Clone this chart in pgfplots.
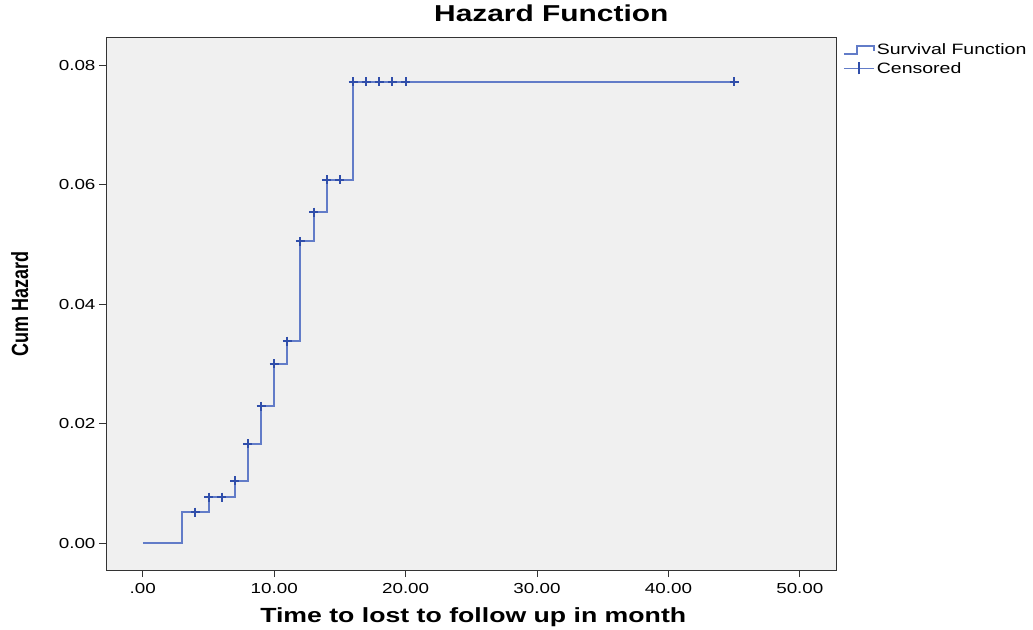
\documentclass[border=0pt]{standalone}
\usepackage{fontspec}
\setmainfont[FakeStretch=1.3]{Liberation Sans}
\newfontfamily\plainsans{Liberation Sans}
\usepackage{graphicx}
\usepackage{pgfplots}
\pgfplotsset{compat=1.18}

\definecolor{stepblue}{RGB}{98,124,200}
\definecolor{censblue}{RGB}{48,78,170}
\definecolor{panel}{RGB}{240,240,240}

\begin{document}
\begin{tikzpicture}
\begin{axis}[
    scale only axis,
    width=730bp, height=533bp,
    xmin=-2.8, xmax=52.75,
    ymin=-0.0045, ymax=0.0847,
    scaled y ticks=false,
    axis background/.style={fill=panel},
    axis line style={black!80, line width=0.8bp},
    xtick={0,10,20,30,40,50},
    xticklabels={.00,10.00,20.00,30.00,40.00,50.00},
    ytick={0,0.02,0.04,0.06,0.08},
    yticklabels={0.00,0.02,0.04,0.06,0.08},
    xtick pos=lower, ytick pos=left,
    tick align=outside,
    major tick length=7bp,
    tick style={black!80, line width=1bp},
    ticklabel style={font=\fontsize{14.5bp}{16bp}\selectfont},
    xticklabel style={yshift=-3bp},
    title={\fontsize{23bp}{26bp}\selectfont\bfseries Hazard Function},
    title style={at={(axis description cs:0.61,1.034)}, anchor=center},
    xlabel={\fontsize{20.5bp}{24bp}\selectfont\bfseries Time to lost to follow up in month},
    xlabel style={at={(axis description cs:0.503,-0.088)}, anchor=center},
    ylabel={\scalebox{1}[1.3]{\plainsans\fontsize{18bp}{20bp}\selectfont\bfseries Cum Hazard}},
    ylabel style={at={(axis description cs:-0.118,0.5)}, anchor=center},
    legend style={at={(axis description cs:1.008,0.993)}, anchor=north west,
        draw=none, fill=none, font=\fontsize{15bp}{17bp}\selectfont,
        row sep=2bp, inner sep=1bp},
    legend cell align=left,
]
\addplot[const plot, color=stepblue, line width=2bp,
    legend image code/.code={
        \draw[draw=stepblue, line width=1.8bp] (0bp,-4bp) -- (13bp,-4bp) -- (13bp,4bp) -- (30bp,4bp) -- (30bp,-1bp);
    }]
coordinates {
    (0,0) (3,0.0052) (5,0.0077) (7,0.0104) (8,0.0166) (9,0.0229)
    (10,0.0300) (11,0.0338) (12,0.0505) (13,0.0554) (14,0.0608)
    (16,0.0772) (45,0.0772)
};
\addlegendentry{Survival Function}
\addplot[only marks, mark=+, mark size=4.5bp, color=censblue, line width=2bp,
    legend image code/.code={
        \draw[draw=stepblue, line width=1.8bp] (0bp,0bp) -- (30bp,0bp);
        \draw[draw=censblue, line width=1.6bp] (15bp,-6bp) -- (15bp,6bp);
    }]
coordinates {
    (4,0.0052) (5,0.0077) (6,0.0077) (7,0.0104) (8,0.0166) (9,0.0229)
    (10,0.0300) (11,0.0338) (12,0.0505) (13,0.0554) (14,0.0608) (15,0.0608)
    (16,0.0772) (17,0.0772) (18,0.0772) (19,0.0772) (20,0.0772) (45,0.0772)
};
\addlegendentry{Censored}
\end{axis}
\path[use as bounding box] ([xshift=-106bp,yshift=-58bp]current axis.south west)
    rectangle ([xshift=197bp,yshift=37bp]current axis.north east);
\end{tikzpicture}
\end{document}
